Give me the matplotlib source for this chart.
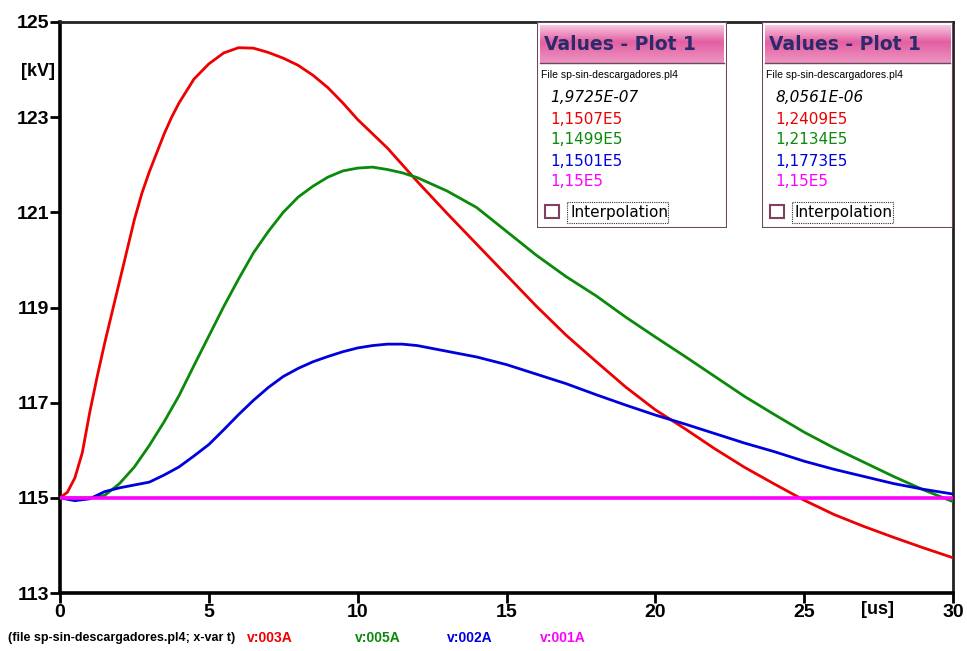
import numpy as np
import matplotlib
matplotlib.use("Agg")
import matplotlib.pyplot as plt
from matplotlib.patches import Rectangle

plt.rcParams['font.family'] = ['Liberation Sans', 'DejaVu Sans']

# ---------------- data ----------------
t_red = [0, 0.25, 0.5, 0.75, 1, 1.25, 1.5, 1.75, 2, 2.25, 2.5, 2.75, 3, 3.25, 3.5, 3.75,
         4, 4.5, 5, 5.5, 6, 6.5, 7, 7.5, 8, 8.5, 9, 9.5, 10, 11, 12, 13, 14, 15, 16,
         17, 18, 19, 20, 21, 22, 23, 24, 25, 26, 27, 28, 29, 30]
v_red = [115.0, 115.12, 115.42, 115.95, 116.8, 117.55, 118.25, 118.9, 119.55, 120.2,
         120.85, 121.4, 121.85, 122.25, 122.65, 123.0, 123.3, 123.8, 124.12, 124.35,
         124.46, 124.45, 124.36, 124.24, 124.09, 123.88, 123.62, 123.3, 122.95, 122.35,
         121.65, 120.98, 120.33, 119.68, 119.03, 118.42, 117.87, 117.33, 116.85,
         116.45, 116.03, 115.64, 115.29, 114.95, 114.65, 114.4, 114.17, 113.95, 113.74]

t_green = [0, 1, 1.5, 2, 2.5, 3, 3.5, 4, 4.5, 5, 5.5, 6, 6.5, 7, 7.5, 8, 8.5, 9, 9.5,
           10, 10.5, 11, 11.5, 12, 13, 14, 15, 16, 17, 18, 19, 20, 21, 22, 23, 24,
           25, 26, 27, 28, 29, 30]
v_green = [115.0, 115.0, 115.05, 115.3, 115.65, 116.1, 116.6, 117.15, 117.78, 118.4,
           119.02, 119.6, 120.15, 120.6, 121.0, 121.32, 121.55, 121.74, 121.87,
           121.93, 121.95, 121.9, 121.83, 121.73, 121.45, 121.1, 120.6, 120.1,
           119.65, 119.25, 118.8, 118.38, 117.97, 117.55, 117.13, 116.75, 116.38,
           116.05, 115.75, 115.45, 115.17, 114.92]

t_blue = [0, 0.5, 1, 1.5, 2, 2.5, 3, 3.5, 4, 4.5, 5, 5.5, 6, 6.5, 7, 7.5, 8, 8.5, 9,
          9.5, 10, 10.5, 11, 11.5, 12, 13, 14, 15, 16, 17, 18, 19, 20, 21, 22, 23,
          24, 25, 26, 27, 28, 29, 30]
v_blue = [115.0, 114.94, 114.98, 115.13, 115.21, 115.27, 115.33, 115.48, 115.65, 115.88,
          116.12, 116.43, 116.75, 117.05, 117.32, 117.55, 117.72, 117.86, 117.97,
          118.07, 118.15, 118.2, 118.23, 118.23, 118.2, 118.08, 117.96, 117.8,
          117.6, 117.4, 117.17, 116.95, 116.74, 116.55, 116.35, 116.15, 115.97,
          115.77, 115.6, 115.45, 115.3, 115.18, 115.08]

t_mag = [0, 30]
v_mag = [115.0, 115.0]

series_names = ["v:003A", "v:005A", "v:002A", "v:001A"]
series_colors = ["#ee0000", "#0a8a0a", "#0000dd", "#ff00ff"]

y_ticks = [113, 115, 117, 119, 121, 123, 125]
x_ticks = [0, 5, 10, 15, 20, 25, 30]

box_file = "File sp-sin-descargadores.pl4"
box1_time = "1,9725E-07"
box1_vals = ["1,1507E5", "1,1499E5", "1,1501E5", "1,15E5"]
box2_time = "8,0561E-06"
box2_vals = ["1,2409E5", "1,2134E5", "1,1773E5", "1,15E5"]

# ---------------- figure ----------------
W, H = 967, 651
fig = plt.figure(figsize=(W / 100, H / 100), dpi=100)
fig.patch.set_facecolor("white")

L, R, T, B = 60, 953, 22, 593
ax = fig.add_axes([L / W, 1 - B / H, (R - L) / W, (B - T) / H])

lw = 2.0
ax.plot(t_red, v_red, color=series_colors[0], lw=lw, zorder=3)
ax.plot(t_green, v_green, color=series_colors[1], lw=lw, zorder=3)
ax.plot(t_blue, v_blue, color=series_colors[2], lw=lw, zorder=3)
ax.plot(t_mag, v_mag, color=series_colors[3], lw=2.6, zorder=4)

ax.set_xlim(0, 30)
ax.set_ylim(113, 125)
ax.set_yticks(y_ticks)
ax.set_xticks(x_ticks)
ax.set_yticklabels([str(v) for v in y_ticks], fontsize=14, fontweight="bold")
ax.set_xticklabels([str(v) for v in x_ticks], fontsize=14, fontweight="bold")
ax.tick_params(axis="both", direction="out", length=7, width=2, color="black", pad=1)
for s in ["left", "bottom"]:
    ax.spines[s].set_linewidth(2.6)
for s in ["top", "right"]:
    ax.spines[s].set_linewidth(2.0)
    ax.spines[s].set_color("#222222")

fig.text(38 / W, 1 - 72 / H, "[kV]", fontsize=13, fontweight="bold", ha="center", va="center")
fig.text(878 / W, 1 - 609 / H, "[us]", fontsize=13, fontweight="bold", ha="center", va="center")

# bottom legend
fig.text(8 / W, 1 - 638 / H, "(file sp-sin-descargadores.pl4; x-var t)", fontsize=9,
         fontweight="bold", ha="left", va="center")
leg_x = [247, 355, 447, 540]
for name, col, x in zip(series_names, series_colors, leg_x):
    fig.text(x / W, 1 - 638 / H, name, fontsize=10, fontweight="bold", color=col,
             ha="left", va="center")


# value boxes
def draw_box(x0, x1, y0, y1, tval, vals):
    bw, bh = x1 - x0, y1 - y0
    bax = fig.add_axes([x0 / W, 1 - y1 / H, bw / W, bh / H])
    bax.set_xlim(0, bw)
    bax.set_ylim(bh, 0)
    bax.axis("off")
    bax.add_patch(Rectangle((0, 0), bw, bh, facecolor="white", edgecolor="#6a4a5a", lw=1.5))
    # gradient header
    grad = np.concatenate([np.linspace(0.1, 1, 18), np.linspace(1, 0.55, 22)])
    top = np.array([0.98, 0.82, 0.90])
    mid = np.array([0.89, 0.38, 0.64])
    img = top[None, :] * (1 - grad[:, None]) + mid[None, :] * grad[:, None]
    img = img[:, None, :].repeat(2, axis=1)
    bax.imshow(img, extent=(3, bw - 3, 41, 3), aspect="auto", zorder=1)
    bax.plot([3, bw - 3], [41, 41], color="#6a4a5a", lw=1)
    bax.text(7, 23, "Values - Plot 1", fontsize=13.5, fontweight="bold", color="#2b2b6b",
             family="DejaVu Sans", ha="left", va="center", zorder=2)
    bax.text(4, 53, box_file, fontsize=7.5, ha="left", va="center", color="black")
    bax.text(13, 76, tval, fontsize=11, fontstyle="italic", family="DejaVu Sans",
             ha="left", va="center", color="black")
    for i, (v, c) in enumerate(zip(vals, series_colors)):
        bax.text(13, 97 + 21 * i, v, fontsize=11, family="DejaVu Sans", ha="left",
                 va="center", color=c)
    bax.add_patch(Rectangle((8, 183), 14, 13, facecolor="white", edgecolor="#804060", lw=1.5))
    bax.text(33, 191, "Interpolation", fontsize=11, family="DejaVu Sans", ha="left",
             va="center", color="black")
    bax.add_patch(Rectangle((30, 180), 101, 21, facecolor="none", edgecolor="#333333",
                            lw=0.8, ls=(0, (1, 1))))


draw_box(537, 727, 22, 228, box1_time, box1_vals)
draw_box(762, 953, 22, 228, box2_time, box2_vals)

fig.savefig("out.png", dpi=100)
